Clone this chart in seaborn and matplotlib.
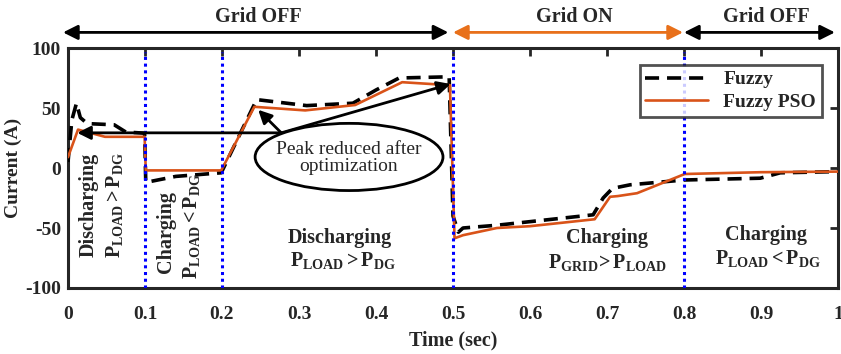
import numpy as np
import pandas as pd
import matplotlib
matplotlib.use("Agg")
import matplotlib.pyplot as plt
from matplotlib.patches import Ellipse
import seaborn as sns

# ---------------- data ----------------
fuzzy_t = [0.0, 0.005, 0.011, 0.016, 0.025, 0.06, 0.075, 0.0995, 0.101, 0.14, 0.199,
           0.245, 0.31, 0.37, 0.40, 0.43, 0.495, 0.5, 0.507, 0.513, 0.557, 0.682,
           0.695, 0.707, 0.73, 0.765, 0.8, 0.899, 0.925, 1.0]
fuzzy_i = [5, 40, 54, 42, 37, 36, 30, 29, -12, -7, -4,
           57, 52, 54, 65, 75, 76, -40, -53.5, -50, -47.7, -39,
           -25, -17, -14, -12, -10, -8.5, -4, -3]

pso_t = [0.0, 0.013, 0.048, 0.0995, 0.101, 0.199, 0.242, 0.308, 0.373, 0.434, 0.496,
         0.502, 0.513, 0.557, 0.6, 0.684, 0.704, 0.714, 0.739, 0.801, 0.9, 1.0]
pso_i = [9, 32, 26, 26, -2, -2, 51, 48, 52.5, 71.5, 69,
         -58.6, -56, -50, -48.5, -42.7, -24, -23.4, -21, -5, -3.5, -3]

mode_lines = [0.1, 0.2, 0.5, 0.8]
xticks = [0, 0.1, 0.2, 0.3, 0.4, 0.5, 0.6, 0.7, 0.8, 0.9, 1.0]
xtick_labels = ["0", "0.1", "0.2", "0.3", "0.4", "0.5", "0.6", "0.7", "0.8", "0.9", "1"]
yticks = [-100, -50, 0, 50, 100]
ytick_labels = ["-100", "-50", "0", "50", "100"]

grid_segments = [(-0.0065, 0.494, "Grid OFF", "black"),
                 (0.5, 0.7987, "Grid ON", "#E8701A"),
                 (0.8, 0.996, "Grid OFF", "black")]
grid_label_x = [0.247, 0.657, 0.907]

# ---------------- style ----------------
sns.set_theme(style="white")
plt.rcParams["font.family"] = ["Liberation Serif", "DejaVu Serif"]
plt.rcParams["mathtext.fontset"] = "custom"
plt.rcParams["mathtext.rm"] = "Liberation Serif"
plt.rcParams["mathtext.bf"] = "Liberation Serif:bold"
plt.rcParams["mathtext.it"] = "Liberation Serif:italic"

fig = plt.figure(figsize=(8.41, 3.54), dpi=100)
ax = fig.add_axes([68 / 841, 1 - 288 / 354, 770 / 841, 240 / 354])

ORANGE = "#D95319"

df_f = pd.DataFrame({"t": fuzzy_t, "i": fuzzy_i})
df_p = pd.DataFrame({"t": pso_t, "i": pso_i})

sns.lineplot(data=df_f, x="t", y="i", ax=ax, color="black", lw=2.6,
             linestyle=(0, (3.9, 2.2)), sort=False, estimator=None, label="Fuzzy", zorder=3)
sns.lineplot(data=df_p, x="t", y="i", ax=ax, color=ORANGE, lw=1.9,
             sort=False, estimator=None, label="Fuzzy PSO", zorder=4)

for xv in mode_lines:
    ax.plot([xv, xv], [-100, 97], color="#0000FF", lw=2.2, ls=(0, (1, 1.2)), zorder=5)

ax.set_xlim(0, 1)
ax.set_ylim(-100, 100)
ax.set_xticks(xticks)
ax.set_xticklabels(xtick_labels)
ax.set_yticks(yticks)
ax.set_yticklabels(ytick_labels)
ax.tick_params(direction="in", length=6, width=2, top=True, right=True,
               labelsize=14, colors="#262626")
ax.tick_params(axis="x", pad=13)
ax.tick_params(axis="y", pad=5)
for lab in ax.get_xticklabels() + ax.get_yticklabels():
    lab.set_fontweight("bold")
    lab.set_color("#262626")
for sp in ax.spines.values():
    sp.set_linewidth(2.2)
    sp.set_color("#262626")

ax.set_xlabel("Time (sec)", fontsize=14.5, fontweight="bold", labelpad=5)
ax.set_ylabel("Current (A)", fontsize=14, fontweight="bold", labelpad=2)

leg = ax.legend(loc="upper right", bbox_to_anchor=(0.979, 0.929), frameon=True,
                fancybox=False, prop={"weight": "bold", "size": 14},
                handlelength=3.2, borderpad=0.3, labelspacing=0.25, handletextpad=0.8,
                borderaxespad=0)
leg.get_frame().set_edgecolor("#262626")
leg.get_frame().set_linewidth(2)
leg.set_zorder(6)

# top grid arrows
for (x0, x1, lab, col), lx in zip(grid_segments, grid_label_x):
    ax.annotate("", xy=(x1, 113), xytext=(x0, 113), xycoords="data",
                annotation_clip=False,
                arrowprops=dict(arrowstyle="<|-|>", color=col, lw=2,
                                mutation_scale=22, shrinkA=0, shrinkB=0))
    ax.text(lx, 125.5, lab, ha="center", va="center", fontsize=14.5, fontweight="bold",
            clip_on=False)

# ellipse annotation
ell = Ellipse((0.365, 9.2), width=0.244, height=56, facecolor="white",
              edgecolor="black", lw=2, zorder=7)
ax.add_patch(ell)
ax.text(0.365, 8.5, "Peak reduced after\noptimization", ha="center", va="center",
        fontsize=14, linespacing=1.0, zorder=8)
origin = (0.277, 29.3)
for head in [(0.012, 29.3), (0.247, 48.5), (0.497, 70)]:
    ax.annotate("", xy=head, xytext=origin,
                arrowprops=dict(arrowstyle="-|>", color="black", lw=2,
                                mutation_scale=20, shrinkA=0, shrinkB=0), zorder=6)

# mode labels
fs = 14.5
ax.text(0.027, -31, "Discharging", rotation=90, ha="center", va="center",
        fontsize=fs, fontweight="bold")
ax.text(0.061, -31, r"$\mathbf{P_{LOAD} > P_{DG}}$", rotation=90, ha="center",
        va="center", fontsize=fs)
ax.text(0.127, -53, "Charging", rotation=90, ha="center", va="center",
        fontsize=fs, fontweight="bold")
ax.text(0.160, -48, r"$\mathbf{P_{LOAD} < P_{DG}}$", rotation=90, ha="center",
        va="center", fontsize=fs)
ax.text(0.353, -58.6, "Discharging", ha="center", va="center", fontsize=fs,
        fontweight="bold")
ax.text(0.357, -77, r"$\mathbf{P_{LOAD} > P_{DG}}$", ha="center", va="center", fontsize=fs)
ax.text(0.70, -58.6, "Charging", ha="center", va="center", fontsize=fs, fontweight="bold")
ax.text(0.70, -79, r"$\mathbf{P_{GRID}\!> P_{LOAD}}$", ha="center", va="center",
        fontsize=fs)
ax.text(0.906, -56, "Charging", ha="center", va="center", fontsize=fs, fontweight="bold")
ax.text(0.909, -75, r"$\mathbf{P_{LOAD} < P_{DG}}$", ha="center", va="center", fontsize=fs)

fig.savefig("out.png", dpi=100)
